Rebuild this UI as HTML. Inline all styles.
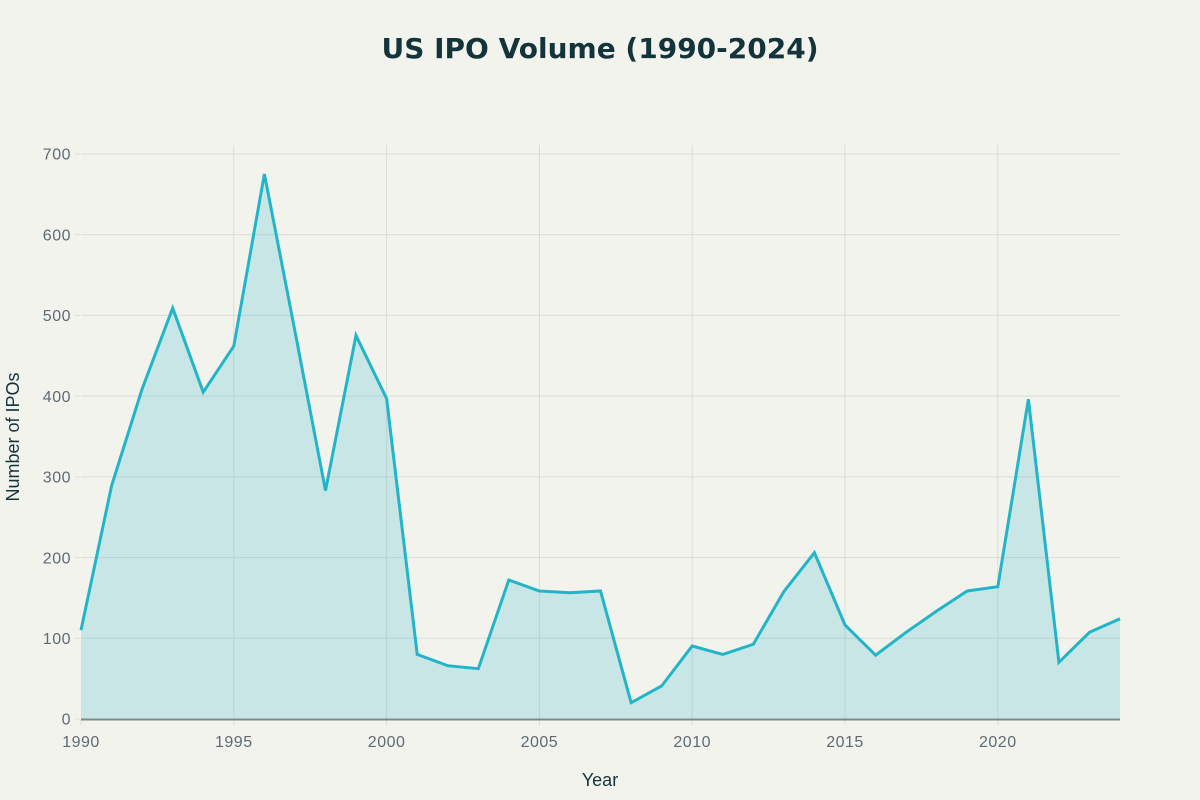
<!DOCTYPE html>
<html>
<head>
<meta charset="utf-8">
<style>
html,body{margin:0;padding:0;background:#f3f3ee;}
svg{display:block;}
text{font-family:"Liberation Sans",sans-serif;}
</style>
</head>
<body>
<svg width="1200" height="800" viewBox="0 0 1200 800" xmlns="http://www.w3.org/2000/svg">
<rect width="1200" height="800" fill="#f3f3ee"/>
<text x="600" y="58" text-anchor="middle" style="font-family:'DejaVu Sans',sans-serif" font-weight="bold" font-size="28" fill="#13343b">US IPO Volume (1990-2024)</text>

<!-- grid horizontal -->
<g stroke="#dcdcd6" stroke-width="1">
<line x1="81" y1="638.3" x2="1120" y2="638.3"/>
<line x1="81" y1="557.6" x2="1120" y2="557.6"/>
<line x1="81" y1="476.9" x2="1120" y2="476.9"/>
<line x1="81" y1="396.1" x2="1120" y2="396.1"/>
<line x1="81" y1="315.4" x2="1120" y2="315.4"/>
<line x1="81" y1="234.7" x2="1120" y2="234.7"/>
<line x1="81" y1="154" x2="1120" y2="154"/>
</g>
<!-- grid vertical -->
<g stroke="#dcdcd6" stroke-width="1">
<line x1="233.8" y1="145" x2="233.8" y2="719"/>
<line x1="386.6" y1="145" x2="386.6" y2="719"/>
<line x1="539.4" y1="145" x2="539.4" y2="719"/>
<line x1="692.2" y1="145" x2="692.2" y2="719"/>
<line x1="845.0" y1="145" x2="845.0" y2="719"/>
<line x1="997.8" y1="145" x2="997.8" y2="719"/>
</g>
<!-- ticks -->
<g stroke="#dcdcd6" stroke-width="1">
<line x1="75" y1="719" x2="80" y2="719"/>
<line x1="75" y1="638.3" x2="80" y2="638.3"/>
<line x1="75" y1="557.6" x2="80" y2="557.6"/>
<line x1="75" y1="476.9" x2="80" y2="476.9"/>
<line x1="75" y1="396.1" x2="80" y2="396.1"/>
<line x1="75" y1="315.4" x2="80" y2="315.4"/>
<line x1="75" y1="234.7" x2="80" y2="234.7"/>
<line x1="75" y1="154" x2="80" y2="154"/>
<line x1="81" y1="720" x2="81" y2="725"/>
<line x1="233.8" y1="720" x2="233.8" y2="725"/>
<line x1="386.6" y1="720" x2="386.6" y2="725"/>
<line x1="539.4" y1="720" x2="539.4" y2="725"/>
<line x1="692.2" y1="720" x2="692.2" y2="725"/>
<line x1="845.0" y1="720" x2="845.0" y2="725"/>
<line x1="997.8" y1="720" x2="997.8" y2="725"/>
</g>

<!-- area -->
<polygon fill="#22b5c8" fill-opacity="0.2" points="81,719 81,630.2 111.6,485.7 142.1,389.0 172.7,308.1 203.2,392.2 233.8,346.1 264.4,174.0 294.9,331.0 325.5,490.6 356.0,335.5 386.6,398.6 417.2,654.4 447.7,665.7 478.3,668.7 508.8,580.0 539.4,591.0 570.0,592.7 600.5,591.0 631.1,702.7 661.6,686.0 692.2,646.0 722.8,654.4 753.3,644.3 783.9,591.5 814.4,552.7 845.0,625.0 875.6,655.2 906.1,632.3 936.7,611.0 967.2,591.0 997.8,586.7 1028.4,399.3 1058.9,662.3 1089.5,632.3 1120,618.7 1120,719"/>
<!-- line -->
<polyline fill="none" stroke="#22b5c8" stroke-width="3" stroke-linejoin="miter" points="81,630.2 111.6,485.7 142.1,389.0 172.7,308.1 203.2,392.2 233.8,346.1 264.4,174.0 294.9,331.0 325.5,490.6 356.0,335.5 386.6,398.6 417.2,654.4 447.7,665.7 478.3,668.7 508.8,580.0 539.4,591.0 570.0,592.7 600.5,591.0 631.1,702.7 661.6,686.0 692.2,646.0 722.8,654.4 753.3,644.3 783.9,591.5 814.4,552.7 845.0,625.0 875.6,655.2 906.1,632.3 936.7,611.0 967.2,591.0 997.8,586.7 1028.4,399.3 1058.9,662.3 1089.5,632.3 1120,618.7"/>

<!-- x axis line -->
<line x1="81" y1="719.5" x2="1120" y2="719.5" stroke="#7c8a8c" stroke-width="2"/>

<!-- y tick labels -->
<g font-size="16" fill="#5e6b72" text-anchor="end" letter-spacing="0.5">
<text x="71" y="724.5">0</text>
<text x="71" y="644">100</text>
<text x="71" y="563.3">200</text>
<text x="71" y="482.6">300</text>
<text x="71" y="401.8">400</text>
<text x="71" y="321.1">500</text>
<text x="71" y="240.4">600</text>
<text x="71" y="159.7">700</text>
</g>
<!-- x tick labels -->
<g font-size="16" fill="#5e6b72" text-anchor="middle" letter-spacing="0.5">
<text x="81" y="747">1990</text>
<text x="233.8" y="747">1995</text>
<text x="386.6" y="747">2000</text>
<text x="539.4" y="747">2005</text>
<text x="692.2" y="747">2010</text>
<text x="845.0" y="747">2015</text>
<text x="997.8" y="747">2020</text>
</g>

<text x="600" y="786" text-anchor="middle" font-size="18" fill="#13343b">Year</text>
<text transform="translate(19,437) rotate(-90)" text-anchor="middle" font-size="18" fill="#13343b">Number of IPOs</text>
</svg>
</body>
</html>
